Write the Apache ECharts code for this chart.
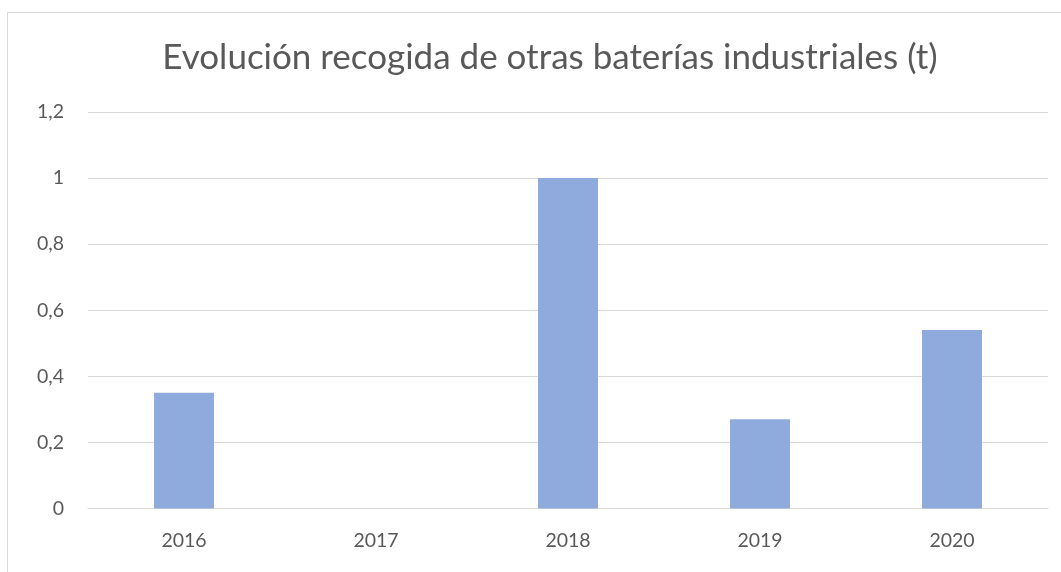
<!DOCTYPE html>
<html>
<head>
<meta charset="utf-8">
<script src="https://cdn.jsdelivr.net/npm/echarts@6/dist/echarts.min.js"></script>
<style>
  html, body { margin: 0; padding: 0; background: #fff; }
  #chart { width: 1061px; height: 572px; }
</style>
</head>
<body>
<div id="chart"></div>
<script>
var title = 'Evolución recogida de otras baterías industriales (t)';
var years = ['2016', '2017', '2018', '2019', '2020'];
var values = [0.35, 0, 1, 0.27, 0.54];
var yTicks = { min: 0, max: 1.2, interval: 0.2 };

var chart = echarts.init(document.getElementById('chart'), null, { renderer: 'canvas' });
var font = 'Lato, "Open Sans", sans-serif';

chart.setOption({
  animation: false,
  graphic: [{
    type: 'rect',
    shape: { x: 7.5, y: 12.5, width: 1100, height: 600 },
    style: { fill: 'none', stroke: '#d9d9d9', lineWidth: 1 },
    silent: true
  }],
  title: {
    text: title,
    left: 545,
    top: 35,
    textAlign: 'center',
    textStyle: { color: '#595959', fontSize: 35, fontWeight: 'normal', fontFamily: font }
  },
  grid: { left: 88, right: 13, top: 112, bottom: 63.5, containLabel: false },
  xAxis: {
    type: 'category',
    data: years,
    axisLine: { lineStyle: { color: '#d9d9d9', width: 1 } },
    axisTick: { show: false },
    axisLabel: { color: '#595959', fontSize: 19.5, fontFamily: font, margin: 22 }
  },
  yAxis: {
    type: 'value',
    min: yTicks.min,
    max: yTicks.max,
    interval: yTicks.interval,
    axisLine: { show: false },
    axisTick: { show: false },
    splitLine: { lineStyle: { color: '#d9d9d9', width: 1 } },
    axisLabel: {
      color: '#595959', fontSize: 19.5, fontFamily: font, margin: 24,
      formatter: function (v) { return String(Math.round(v * 10) / 10).replace('.', ','); }
    }
  },
  series: [{
    type: 'bar',
    data: values,
    barWidth: 60,
    itemStyle: { color: '#8faadc' }
  }]
});
</script>
</body>
</html>
